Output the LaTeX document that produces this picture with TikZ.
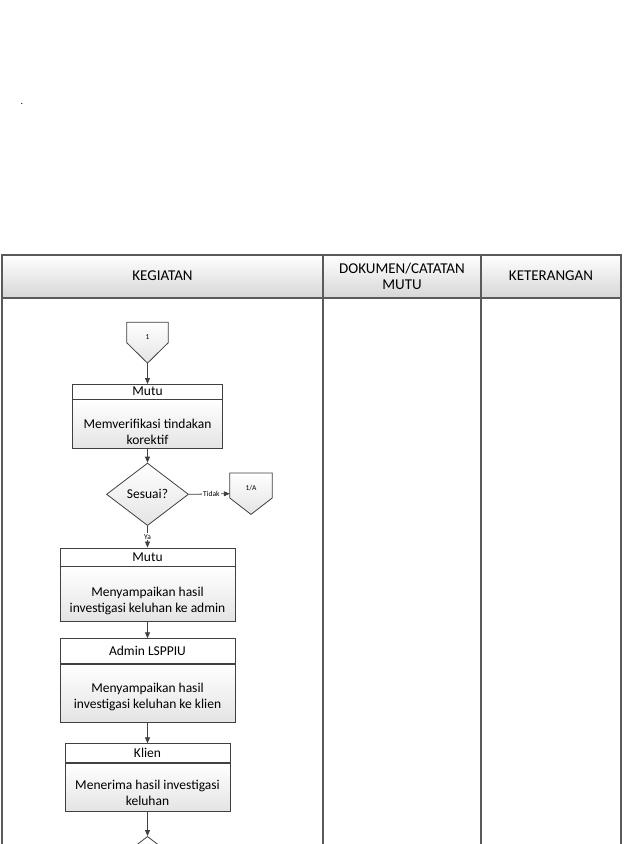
\documentclass[tikz,border=0pt]{standalone}
\usepackage{fontspec}
\setmainfont{Carlito}
\usetikzlibrary{arrows.meta,shapes.geometric,calc}
\definecolor{lineC}{HTML}{404040}
\definecolor{tblC}{HTML}{5A5A5A}
\definecolor{hdrB}{HTML}{D6D6D6}
\definecolor{boxB}{HTML}{E4E4E4}
\begin{document}
\begin{tikzpicture}[x=1pt,y=-1pt,
  tbl/.style={draw=tblC,line width=1.1pt},
  hdrtxt/.style={font=\fontsize{15}{16.5}\selectfont,align=center,inner sep=0pt},
  lanehead/.style={draw=lineC,line width=0.8pt,fill=white,inner sep=0pt,font=\fontsize{13.5}{15}\selectfont},
  lanebody/.style={draw=lineC,line width=0.8pt,top color=white,bottom color=boxB,inner sep=0pt},
  bodytxt/.style={inner sep=0pt,align=center,font=\fontsize{13.5}{16.5}\selectfont},
  dec/.style={diamond,draw=lineC,line width=0.8pt,top color=white,bottom color=boxB,inner sep=0pt,font=\fontsize{13.5}{15}\selectfont},
  offpg/.style={inner sep=0pt},
  offshape/.style={draw=lineC,line width=0.8pt,top color=white,bottom color=boxB},
  tiny/.style={font=\fontsize{7.5}{9}\selectfont,inner sep=1pt},
  conn/.style={draw=lineC,line width=0.8pt,-{Triangle[length=6pt,width=5pt]}}
]
\useasboundingbox (0,0) rectangle (625,844);
\clip (0,0) rectangle (625,844);

% stray dot
\node[inner sep=0pt,font=\fontsize{10}{12}\selectfont] (dot) at (22,104) {.};

% table
\shade[top color=white,bottom color=hdrB] (2,255) rectangle (621,298);
\draw[tbl] (2,255) rectangle (621,900);
\draw[tbl] (2,298) -- (621,298);
\draw[tbl] (323,255) -- (323,900);
\draw[tbl] (481,255) -- (481,900);
\node[hdrtxt] (hK) at (162.5,276) {KEGIATAN};
\node[hdrtxt] (hD) at (402,276.5) {DOKUMEN/CATATAN\\MUTU};
\node[hdrtxt] (hT) at (551,276) {KETERANGAN};

% off-page connector 1
\node[offpg,minimum width=41,minimum height=40.5] (c1) at (147.5,342.7) {};
\path[offshape] (c1.north west) -- (c1.north east) -- ($(c1.north east)+(0,20.5)$) -- (c1.south) -- ($(c1.north west)+(0,20.5)$) -- cycle;
\node[tiny] (c1t) at ($(c1)+(0,-6)$) {1};

% box 1
\node[lanehead,minimum width=150,minimum height=14.5,anchor=north] (b1h) at (147.5,384) {Mutu};
\node[lanebody,minimum width=150,minimum height=49,anchor=north] (b1) at (b1h.south) {};
\node[bodytxt] (b1t) at ($(b1)+(0,7.5)$) {Memverifikasi tindakan\\korektif};

% decision
\node[dec,minimum width=82,minimum height=62.5] (d1) at (147.5,494.3) {Sesuai?};

% off-page connector 1/A
\node[offpg,minimum width=42,minimum height=41] (c2) at (251,493.7) {};
\path[offshape] (c2.north west) -- (c2.north east) -- ($(c2.north east)+(0,25)$) -- (c2.south) -- ($(c2.north west)+(0,25)$) -- cycle;
\node[tiny] (c2t) at ($(c2)+(0,-6)$) {1/A};

% box 2
\node[lanehead,minimum width=175,minimum height=18,anchor=north] (b2h) at (147.5,547.5) {Mutu};
\node[lanebody,minimum width=175,minimum height=55,anchor=north] (b2) at (b2h.south) {};
\node[bodytxt] (b2t) at ($(b2)+(0,7)$) {Menyampaikan hasil\\investigasi keluhan ke admin};

% box 3
\node[lanehead,minimum width=175,minimum height=24.5,anchor=north] (b3h) at (147.5,638.3) {Admin LSPPIU};
\node[lanebody,minimum width=175,minimum height=58,anchor=north] (b3) at (b3h.south) {};
\node[bodytxt] (b3t) at ($(b3)+(0,4)$) {Menyampaikan hasil\\investigasi keluhan ke klien};

% box 4
\node[lanehead,minimum width=165,minimum height=18.5,anchor=north] (b4h) at (147.5,743.3) {Klien};
\node[lanebody,minimum width=165,minimum height=48,anchor=north] (b4) at (b4h.south) {};
\node[bodytxt] (b4t) at ($(b4)+(0,6)$) {Menerima hasil investigasi\\keluhan};

% next decision (cut off)
\node[dec,minimum width=82,minimum height=62.5,anchor=north] (d2) at (147.5,836) {};

% connectors
\draw[conn] (c1.south) -- (b1h.north);
\draw[conn] (b1.south) -- (d1.north);
\draw[conn] (d1.east) -- node[tiny,fill=white,pos=0.55] (lt) {Tidak} (c2.west);
\draw[conn] (d1.south) -- node[tiny,fill=white] (ly) {Ya} (b2h.north);
\draw[conn] (b2.south) -- (b3h.north);
\draw[conn] (b3.south) -- (b4h.north);
\draw[conn] (b4.south) -- (d2.north);
\end{tikzpicture}
\end{document}
